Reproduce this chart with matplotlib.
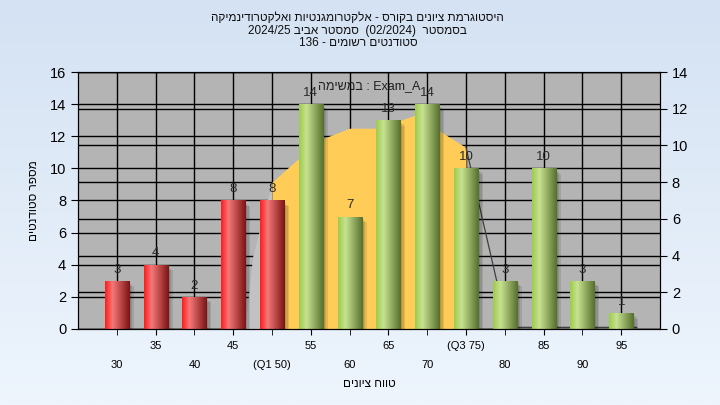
import numpy as np
import matplotlib.pyplot as plt
from matplotlib.colors import LinearSegmentedColormap

plt.rcParams['font.family'] = ['Liberation Sans', 'DejaVu Sans']


def vis(s):
    # crude right-to-left display for Hebrew text
    words = s.split(' ')
    out = []
    for w in words[::-1]:
        if any('\u0590' <= c <= '\u05ff' for c in w):
            w = w[::-1]
        out.append(w)
    return ' '.join(out)


grades = [30, 35, 40, 45, 50, 55, 60, 65, 70, 75, 80, 85, 90, 95]
counts = [3, 4, 2, 8, 8, 14, 7, 13, 14, 10, 3, 10, 3, 1]
tick_labels = ['30', '35', '40', '45', '(Q1 50)', '55', '60', '65', '70',
               '(Q3 75)', '80', '85', '90', '95']
q1, q3 = 50, 75

# distribution shape behind the bars (left-axis units)
tail_x = [46.5, 47.5, 50]
tail_y = [0, 4.5, 9.15]
mid_x = [50, 53.5, 56.8, 60, 63.5, 68.4, 75]
mid_y = [9.15, 10.65, 11.9, 12.5, 12.5, 13.3, 11.3]
line_x = [75, 79, 80.5, 97]
line_y = [11.3, 2.9, 0.1, 0.1]

title_lines = ['היסטוגרמת ציונים בקורס - אלקטרומגנטיות ואלקטרודינמיקה',
               'בסמסטר  (02/2024)  סמסטר אביב 2024/25',
               'סטודנטים רשומים - 136']

fig = plt.figure(figsize=(7.2, 4.05), dpi=100)

# background gradient
bg = fig.add_axes([0, 0, 1, 1], zorder=-10)
grad = np.linspace(0, 1, 256).reshape(-1, 1)
bg_cmap = LinearSegmentedColormap.from_list('bg', ['#d4e2f3', '#eef5fd'])
bg.imshow(grad, aspect='auto', cmap=bg_cmap, extent=[0, 1, 0, 1])
bg.axis('off')

ax = fig.add_axes([0.1083, 0.1877, 0.8084, 0.6345])
ax.set_facecolor('#b4b4b4')
ax.set_xlim(25, 100)
ax.set_ylim(0, 16)

ax2 = ax.twinx()
ax2.set_ylim(0, 14)
ax2.set_yticks(range(0, 15, 2))

# grid lines for both axes
for v in range(0, 17, 2):
    ax.axhline(v, color='black', lw=1, zorder=0.5)
for v in range(0, 15, 2):
    ax.axhline(v * 16 / 14, color='black', lw=1, zorder=0.5)
for g in grades:
    ax.axvline(g, color='black', lw=1, zorder=0.5)

# distribution area
ax.fill_between(tail_x, tail_y, color='#c2c2c2', lw=0, zorder=1)
ax.fill_between(mid_x, mid_y, color='#ffcc58', lw=0, zorder=1)
ax.plot(line_x, line_y, color='#404040', lw=0.9, zorder=1.1)

red_cmap = LinearSegmentedColormap.from_list(
    'red', [(0, '#ff1c1c'), (0.3, '#f57878'), (1, '#7c1414')])
green_cmap = LinearSegmentedColormap.from_list(
    'green', [(0, '#9ccc4c'), (0.3, '#c8e292'), (1, '#566f2c')])
hgrad = np.linspace(0, 1, 64).reshape(1, -1)

w = 3.1
for g, c in zip(grades, counts):
    # soft shadow
    for k, a in enumerate([0.10, 0.10, 0.10]):
        ax.bar(g + 0.25 + 0.2 * k, c - 0.1 * k, width=w, bottom=-0.15,
               color='black', alpha=a, lw=0, zorder=1.5)
    bar = ax.bar(g, c, width=w, color='none', lw=0, zorder=2)[0]
    cmap = red_cmap if g <= q1 else green_cmap
    im = ax.imshow(hgrad, extent=[g - w / 2, g + w / 2, 0, c], aspect='auto',
                   cmap=cmap, zorder=2)
    im.set_clip_path(bar)
    ax.text(g, c + 0.7, str(c), ha='center', va='center', fontsize=9.5,
            color='#2a2a2a', zorder=4)

ax.set_xlim(25, 100)
ax.set_ylim(0, 16)
ax.set_yticks(range(0, 17, 2))

# staggered x tick labels
ax.set_xticks(grades[1::2])
ax.set_xticklabels(tick_labels[1::2])
ax.set_xticks(grades[0::2], minor=True)
ax.set_xticklabels(tick_labels[0::2], minor=True)
ax.tick_params(axis='x', which='major', length=4, pad=5, labelsize=8)
ax.tick_params(axis='x', which='minor', length=4, pad=18, labelsize=8)
ax.tick_params(axis='y', length=5, labelsize=10.5, colors='black')
ax2.tick_params(axis='y', length=5, labelsize=10.5)

ax.text(0.5, 0.945, vis('במשימה') + ' : Exam_A', transform=ax.transAxes,
        ha='center', va='center', fontsize=9, color='#202020', zorder=5)

ax.set_xlabel(vis('טווח ציונים'), fontsize=8.5, labelpad=6)
ax.set_ylabel(vis('מספר סטודנטים'), fontsize=8.5, labelpad=7)

for i, line in enumerate(title_lines):
    fig.text(0.497, 0.955 - i * 0.031, vis(line), ha='center', va='center',
             fontsize=8.5, color='#101010')

fig.savefig('out.png', dpi=100)
